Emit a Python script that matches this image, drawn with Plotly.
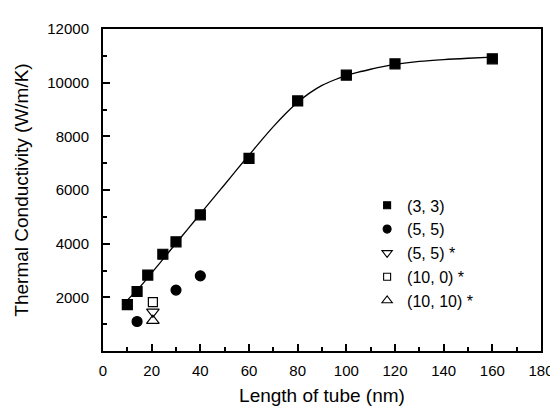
import plotly.graph_objects as go

# (3,3) tube data
x33 = [10, 14, 18.4, 24.6, 30, 40, 60, 80, 100, 120, 160]
y33 = [1725, 2217, 2830, 3605, 4070, 5074, 7180, 9320, 10280, 10700, 10890]
# fitted curve
xfit = [9.5, 15, 20, 25, 30, 35, 40, 45, 50, 55, 60, 65, 70, 75, 80, 85, 90, 95, 100,
        105, 110, 115, 120, 130, 140, 150, 160]
yfit = [1850, 2370, 2910, 3460, 4010, 4560, 5110, 5660, 6205, 6760, 7300, 7840, 8360, 8840, 9270,
        9620, 9900, 10100, 10260, 10390, 10500, 10600, 10680, 10790, 10860, 10910, 10950]
# (5,5)
x55 = [14, 30, 40]
y55 = [1100, 2270, 2800]
# starred series
x55s = [20.5]
y55s = [1460]
x100s = [20.5]
y100s = [1820]
x1010s = [20.5]
y1010s = [1130]

names = ["(3, 3)", "(5, 5)", "(5, 5) *", "(10, 0) *", "(10, 10) *"]
ytickvals = [2000, 4000, 6000, 8000, 10000, 12000]

fig = go.Figure()
fig.add_trace(go.Scatter(x=xfit, y=yfit, mode="lines", line=dict(color="black", width=1.3, shape="spline"),
                         showlegend=False, hoverinfo="skip"))

specs = [
    (x33, y33, "square", 10, "black"),
    (x55, y55, "circle", 10, "black"),
    (x55s, y55s, "triangle-down-open", 11, "black"),
    (x100s, y100s, "square-open", 9, "black"),
    (x1010s, y1010s, "triangle-up-open", 11, "black"),
]
leg_sizes = [7, 8, 9, 7, 9]
for (xs, ys, sym, sz, col), nm, ls in zip(specs, names, leg_sizes):
    fig.add_trace(go.Scatter(x=xs, y=ys, mode="markers", name=nm, showlegend=False,
                             marker=dict(symbol=sym, size=sz, color=col, line=dict(color=col, width=1.2))))
    fig.add_trace(go.Scatter(x=[None], y=[None], mode="markers", name=nm,
                             marker=dict(symbol=sym, size=ls, color=col, line=dict(color=col, width=1.1))))

font_family = "Liberation Sans, Arial, sans-serif"
axis_common = dict(showline=True, linecolor="black", linewidth=2, mirror=True, showgrid=False, zeroline=False,
                   ticks="inside", ticklen=7, tickwidth=1.5, tickcolor="black")
fig.update_xaxes(range=[0, 180], dtick=20, tick0=0,
                 tickfont=dict(family=font_family, size=15, color="black"),
                 title=dict(text="Length of tube (nm)", font=dict(family=font_family, size=19, color="black"), standoff=11),
                 minor=dict(ticks="inside", ticklen=4, dtick=10, tickcolor="black", tickwidth=1.5),
                 ticklabelstandoff=5, **axis_common)
fig.update_yaxes(range=[0, 12000], tickmode="array", tickvals=ytickvals, tickformat="d",
                 tickfont=dict(family=font_family, size=15, color="black"),
                 title=dict(text="Thermal Conductivity (W/m/K)", font=dict(family=font_family, size=19, color="black"), standoff=14),
                 minor=dict(ticks="inside", ticklen=4, dtick=1000, tick0=0, tickcolor="black", tickwidth=1.5),
                 ticklabelstandoff=9, **axis_common)

fig.update_layout(
    width=558, height=407,
    margin=dict(l=95, r=12, t=20, b=55),
    paper_bgcolor="white", plot_bgcolor="white",
    font=dict(family=font_family, color="black"),
    showlegend=True,
    legend=dict(x=0.603, y=0.505, xanchor="left", yanchor="top", bgcolor="rgba(0,0,0,0)",
                font=dict(family=font_family, size=16, color="black"), tracegroupgap=0),
)

fig.write_html("out.html")
